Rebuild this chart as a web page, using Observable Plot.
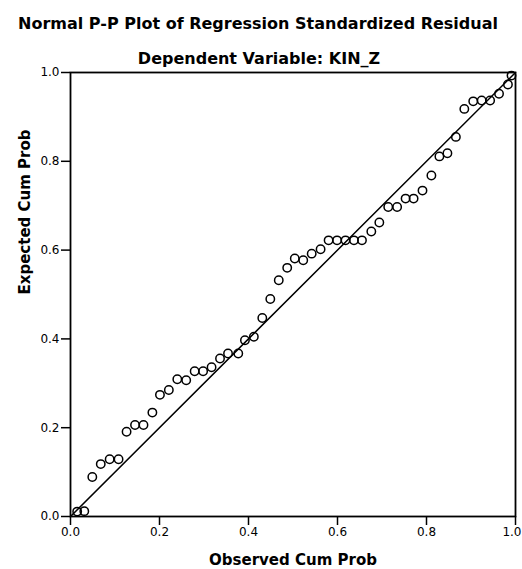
<!DOCTYPE html>
<html><head><meta charset="utf-8">
<script src="https://cdn.jsdelivr.net/npm/d3@7"></script>
<script src="https://cdn.jsdelivr.net/npm/@observablehq/plot@0.6"></script>
<style>body{margin:0;background:#fff}</style>
</head><body><div id="chart"></div>
<script>
const title = "Normal P-P Plot of Regression Standardized Residual";
const subtitle = "Dependent Variable: KIN_Z";
const xLabel = "Observed Cum Prob";
const yLabel = "Expected Cum Prob";

const observed = [0.015,0.031,0.049,0.068,0.088,0.108,0.126,0.145,0.164,0.184,
  0.201,0.221,0.240,0.260,0.279,0.298,0.317,0.336,0.354,0.377,
  0.392,0.412,0.431,0.449,0.468,0.487,0.504,0.523,0.542,0.562,
  0.580,0.599,0.618,0.637,0.655,0.676,0.694,0.714,0.734,0.753,
  0.771,0.791,0.811,0.829,0.847,0.866,0.885,0.905,0.924,0.943,
  0.963,0.983,0.991];
const expected = [0.011,0.012,0.089,0.118,0.129,0.129,0.191,0.206,0.206,0.234,
  0.274,0.285,0.309,0.307,0.327,0.327,0.336,0.356,0.367,0.367,
  0.397,0.405,0.447,0.490,0.532,0.560,0.581,0.577,0.592,0.602,
  0.622,0.622,0.622,0.622,0.622,0.642,0.662,0.697,0.697,0.716,
  0.716,0.734,0.768,0.811,0.818,0.855,0.918,0.935,0.937,0.937,
  0.952,0.973,0.993];

const refX = [0, 1];
const refY = [0, 1];
const tickValues = [0, 0.2, 0.4, 0.6, 0.8, 1.0];
const tickLabels = ["0.0", "0.2", "0.4", "0.6", "0.8", "1.0"];

const points = observed.map((x, i) => ({x, y: expected[i]}));
const refLine = refX.map((x, i) => ({x, y: refY[i]}));
const fmt = d => tickLabels[tickValues.indexOf(d)];
const lastTick = tickValues[tickValues.length - 1];
const innerTicks = tickValues.slice(0, -1);

const chart = Plot.plot({
  width: 522, height: 569,
  marginTop: 72, marginBottom: 53, marginLeft: 70, marginRight: 7,
  style: {background: "#fff", color: "#000", fontFamily: "'DejaVu Sans', sans-serif"},
  x: {domain: [0, 1]},
  y: {domain: [0, 1]},
  marks: [
    Plot.axisX({ticks: innerTicks, tickFormat: fmt, tickSize: 9, tickPadding: 2, label: null, fontSize: 12, strokeWidth: 1.5}),
    Plot.axisX({ticks: [lastTick], tickFormat: fmt, tickSize: 9, tickPadding: 2, label: null, fontSize: 12, strokeWidth: 1.5, text: null}),
    Plot.axisX({ticks: [lastTick], tickFormat: fmt, tickSize: 0, tickPadding: 11, label: null, fontSize: 12, textAnchor: "end", dx: 6}),
    Plot.axisY({ticks: tickValues, tickFormat: fmt, tickSize: 9, tickPadding: 2, label: null, fontSize: 12, strokeWidth: 1.5}),
    Plot.line(refLine, {x: "x", y: "y", stroke: "#000", strokeWidth: 1.5}),
    Plot.dot(points, {x: "x", y: "y", r: 4.2, stroke: "#000", strokeWidth: 1.5, fill: "none"}),
    Plot.frame({stroke: "#000", strokeWidth: 1.8}),
    Plot.text([title], {text: d => d, frameAnchor: "top", dx: -35, dy: -44, lineAnchor: "bottom", fontSize: 16, fontWeight: "bold", fill: "#000"}),
    Plot.text([subtitle], {text: d => d, frameAnchor: "top", dx: -34, dy: -9, lineAnchor: "bottom", fontSize: 16, fontWeight: "bold", fill: "#000"}),
    Plot.text([xLabel], {text: d => d, frameAnchor: "bottom", dy: 44, lineAnchor: "middle", fontSize: 15, fontWeight: "bold", fill: "#000"}),
    Plot.text([yLabel], {text: d => d, frameAnchor: "left", dx: -45, rotate: -90, lineAnchor: "middle", fontSize: 15, fontWeight: "bold", fill: "#000"})
  ]
});
document.getElementById("chart").appendChild(chart);
</script>
</body></html>
